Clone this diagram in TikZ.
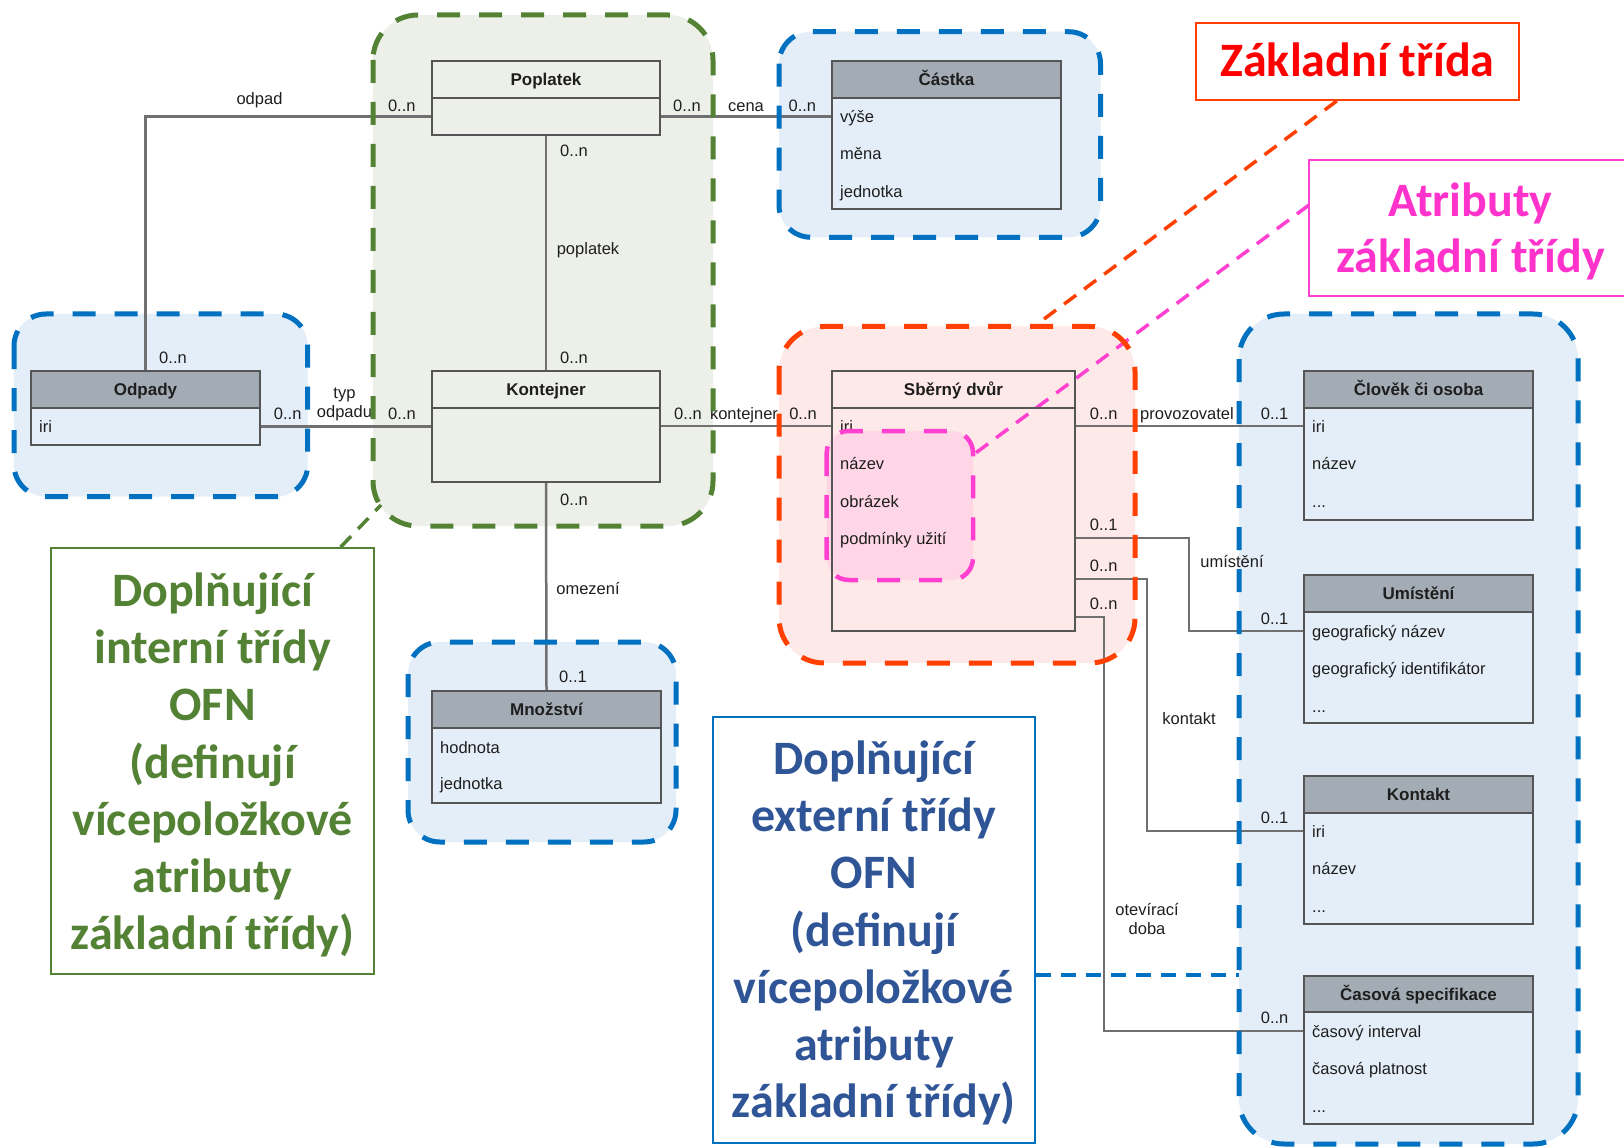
\documentclass[tikz,border=0pt]{standalone}
\usepackage{fontspec}
\setmainfont{Liberation Sans}
\newfontfamily\calib{Carlito}
\usetikzlibrary{calc}
\definecolor{hdrgray}{RGB}{163,172,181}
\definecolor{clsline}{RGB}{85,85,85}
\definecolor{connline}{RGB}{112,112,112}
\definecolor{bluefill}{RGB}{228,238,248}
\definecolor{bluedash}{RGB}{0,112,192}
\definecolor{grnfill}{RGB}{237,240,233}
\definecolor{grndash}{RGB}{84,130,53}
\definecolor{redfill}{RGB}{253,233,231}
\definecolor{reddash}{RGB}{255,64,0}
\definecolor{magfill}{RGB}{255,214,230}
\definecolor{magdash}{RGB}{255,64,208}
\definecolor{exttext}{RGB}{47,85,151}
\definecolor{magtext}{RGB}{255,51,204}
\definecolor{txtdark}{RGB}{30,30,30}

\newcommand\umlcls[8]{%
  \node[clshdr, fill=#8, minimum width={#3-#2}, minimum height={#5-#4}] (#1-h) at ({(#2+#3)/2},{(#4+#5)/2}) {#7};
  \node[clsbody, minimum width={#3-#2}, minimum height={#6-#5}] (#1-b) at ({(#2+#3)/2},{(#5+#6)/2}) {};
}

\begin{document}
\begin{tikzpicture}[x=1pt,y=-1pt,
  clshdr/.style={draw=clsline, line width=2pt, inner sep=0pt, text height=12pt, text depth=0pt, font=\fontsize{17}{20}\selectfont\bfseries, text=txtdark},
  clsbody/.style={draw=clsline, line width=2pt, inner sep=0pt},
  attr/.style={anchor=base west, inner sep=0pt, font=\fontsize{16.5}{19}\selectfont, text=txtdark},
  lbl/.style={anchor=base, inner sep=0pt, font=\fontsize{16.5}{19}\selectfont, text=txtdark},
  conn/.style={draw=connline, line width=2.5pt},
  grpline/.style={line width=5pt, dash pattern=on 23pt off 19pt},
  callline/.style={line width=3.5pt, dash pattern=on 15pt off 10pt},
  bigtxt/.style={font=\calib\bfseries\fontsize{48}{57.3}\selectfont, align=center, inner sep=0pt}]
\useasboundingbox (0,0) rectangle (1624,1147);

% ---- group fills
\fill[bluefill, rounded corners=32pt] (14,314) rectangle (307.7,496.7);
\fill[grnfill, rounded corners=45pt] (373,15) rectangle (713,526);
\fill[bluefill, rounded corners=32pt] (779,31.7) rectangle (1100.5,237.3);
\fill[bluefill, rounded corners=32pt] (408,642) rectangle (676,842);
\fill[redfill, rounded corners=45pt] (779,326.5) rectangle (1135,663);
\fill[magfill, rounded corners=22pt] (826.7,431) rectangle (973,580);
\fill[bluefill, rounded corners=45pt] (1239,314) rectangle (1578,1144);

% ---- named points on groups
\coordinate (g-red-top) at (1034,326.5);
\coordinate (g-mag-r) at (973,455);
\coordinate (g-grn-c) at (381,505);
\coordinate (g-rt-l) at (1239,975);

% ---- callouts
\node[draw=reddash, line width=2pt, minimum width=322.5, minimum height=77.3, inner sep=0pt] (zt) at (1357.5,61.35) {};
\node[bigtxt, anchor=base, text=red] (zt-t) at (1357.5,77) {Základní třída};
\draw[magdash, line width=2pt] (1624,160) -- (1309,160) -- (1309,295.7) -- (1624,295.7);
\coordinate (at-l) at (1309,205);
\node[bigtxt, text=magtext, font=\calib\bfseries\fontsize{48}{56}\selectfont] (at-t) at (1470.5,231.7) {Atributy\\základní třídy};
\node[draw=grndash, line width=2pt, minimum width=322.4, minimum height=426, inner sep=0pt] (int) at (212.6,761) {};
\node[bigtxt, text=grndash] (int-t) at (212.6,765) {Doplňující\\interní třídy\\OFN\\(definují\\vícepoložkové\\atributy\\základní třídy)};
\node[draw=bluedash, line width=2pt, minimum width=322.3, minimum height=426.3, inner sep=0pt] (ext) at (873.85,929.85) {};
\node[bigtxt, text=exttext] (ext-t) at (873.85,933) {Doplňující\\externí třídy\\OFN\\(definují\\vícepoložkové\\atributy\\základní třídy)};

\draw[callline, reddash] (zt.south -| 1336.7,0) -- (g-red-top);
\draw[callline, magdash] (at-l) -- (g-mag-r);
\draw[callline, grndash] (int.north -| 340.7,0) -- (g-grn-c);
\draw[callline, bluedash] (ext.east |- 0,975) -- (g-rt-l);

% ---- classes
\umlcls{pop}{432}{660}{61}{98.3}{135}{Poplatek}{none}
\umlcls{kon}{432}{660}{371}{407.5}{482}{Kontejner}{none}
\umlcls{odp}{31}{260}{371}{408}{445}{Odpady}{hdrgray}
\umlcls{cst}{832}{1061}{61}{98.3}{209.5}{Částka}{hdrgray}
\umlcls{mno}{432}{661}{691}{728}{803}{Množství}{hdrgray}
\umlcls{sd}{832}{1075}{371}{407.7}{631}{Sběrný dvůr}{none}
\umlcls{clo}{1304}{1533}{371}{408}{520}{Člověk či osoba}{hdrgray}
\umlcls{umi}{1304}{1533}{575}{611.7}{723}{Umístění}{hdrgray}
\umlcls{kt}{1304}{1533}{775.7}{813.3}{924}{Kontakt}{hdrgray}
\umlcls{cs}{1304}{1533}{975.7}{1012.3}{1124}{Časová specifikace}{hdrgray}

% ---- attributes
\node[attr] (odp-a1) at (39,432.3) {iri};
\node[attr] (cst-a1) at (840,122.2) {výše};
\node[attr] (cst-a2) at (840,159.6) {měna};
\node[attr] (cst-a3) at (840,197.2) {jednotka};
\node[attr] (mno-a1) at (440,753) {hodnota};
\node[attr] (mno-a2) at (440,789.3) {jednotka};
\node[attr] (sd-a1) at (840,432.2) {iri};
\node[attr] (sd-a2) at (840,469.8) {název};
\node[attr] (sd-a3) at (840,507.2) {obrázek};
\node[attr] (sd-a4) at (840,544.8) {podmínky užití};
\node[attr] (clo-a1) at (1312,432.2) {iri};
\node[attr] (clo-a2) at (1312,469.8) {název};
\node[attr] (clo-a3) at (1312,507) {...};
\node[attr] (umi-a1) at (1312,637.2) {geografický název};
\node[attr] (umi-a2) at (1312,674.8) {geografický identifikátor};
\node[attr] (umi-a3) at (1312,712) {...};
\node[attr] (kt-a1) at (1312,837.8) {iri};
\node[attr] (kt-a2) at (1312,874.5) {název};
\node[attr] (kt-a3) at (1312,912) {...};
\node[attr] (cs-a1) at (1312,1037.2) {časový interval};
\node[attr] (cs-a2) at (1312,1074.8) {časová platnost};
\node[attr] (cs-a3) at (1312,1112) {...};

% ---- connectors
\draw[conn] (odp-h.north) |- (pop-b.west);
\draw[conn] (pop-b.east) -- (pop-b.east -| cst-b.west);
\draw[conn] (pop-b.south) -- (kon-h.north);
\draw[conn] (odp-b.east) -- (odp-b.east -| kon-h.west);
\draw[conn] (kon-b.east |- 0,426) -- (sd-b.west |- 0,426);
\draw[conn] (kon-b.south) -- (mno-h.north);
\draw[conn] (sd-b.east |- 0,426) -- (clo-b.west |- 0,426);
\draw[conn] (sd-b.east |- 0,538) -| (1189,631) -- (umi-b.west |- 0,631);
\draw[conn] (sd-b.east |- 0,579) -| (1147,831) -- (kt-b.west |- 0,831);
\draw[conn] (sd-b.east |- 0,617) -| (1104,1031) -- (cs-b.west |- 0,1031);

% ---- labels
\node[lbl] (l-odpad) at (259.5,105) {odpad};
\node[lbl] (l1) at (401.8,111.7) {0..n};
\node[lbl] (l2) at (687,111.7) {0..n};
\node[lbl] (l-cena) at (746,111.7) {cena};
\node[lbl] (l3) at (802.4,111.7) {0..n};
\node[lbl] (l4) at (574,156.7) {0..n};
\node[lbl] (l-popl) at (588,255) {poplatek};
\node[lbl] (l5) at (574,363.3) {0..n};
\node[lbl] (l6) at (173,363.3) {0..n};
\node[lbl] (l7) at (287.7,419.3) {0..n};
\node[lbl] (l-typ) at (344.5,398) {typ};
\node[lbl] (l-odpadu) at (344.5,417.3) {odpadu};
\node[lbl] (l8) at (402,419.3) {0..n};
\node[lbl] (l9) at (688,419) {0..n};
\node[lbl] (l-kont) at (744,419) {kontejner};
\node[lbl] (l10) at (803,419) {0..n};
\node[lbl] (l11) at (574,505) {0..n};
\node[lbl] (l-omez) at (588,594) {omezení};
\node[lbl] (l12) at (573,682.7) {0..1};
\node[lbl] (l13) at (1103.7,419.3) {0..n};
\node[lbl] (l-prov) at (1187,419.3) {provozovatel};
\node[lbl] (l14) at (1274.6,419.3) {0..1};
\node[lbl] (l15) at (1103.7,530) {0..1};
\node[lbl] (l-umi) at (1232,567.7) {umístění};
\node[lbl] (l16) at (1103.7,571.7) {0..n};
\node[lbl] (l17) at (1103.7,609.3) {0..n};
\node[lbl] (l18) at (1274.6,624) {0..1};
\node[lbl] (l-kontakt) at (1189,724) {kontakt};
\node[lbl] (l19) at (1274.6,823.3) {0..1};
\node[lbl] (l-otev) at (1147,915) {otevírací};
\node[lbl] (l-doba) at (1147,934) {doba};
\node[lbl] (l20) at (1274.6,1023.3) {0..n};

% ---- group borders (on top)
\draw[grpline, bluedash, rounded corners=32pt] (14,314) rectangle (307.7,496.7);
\draw[grpline, grndash, rounded corners=45pt] (373,15) rectangle (713,526);
\draw[grpline, bluedash, rounded corners=32pt] (779,31.7) rectangle (1100.5,237.3);
\draw[grpline, bluedash, rounded corners=32pt] (408,642) rectangle (676,842);
\draw[grpline, reddash, rounded corners=45pt] (779,326.5) rectangle (1135,663);
\draw[grpline, magdash, line width=4.5pt, rounded corners=22pt] (826.7,431) rectangle (973,580);
\draw[grpline, bluedash, rounded corners=45pt] (1239,314) rectangle (1578,1144);
\end{tikzpicture}
\end{document}
